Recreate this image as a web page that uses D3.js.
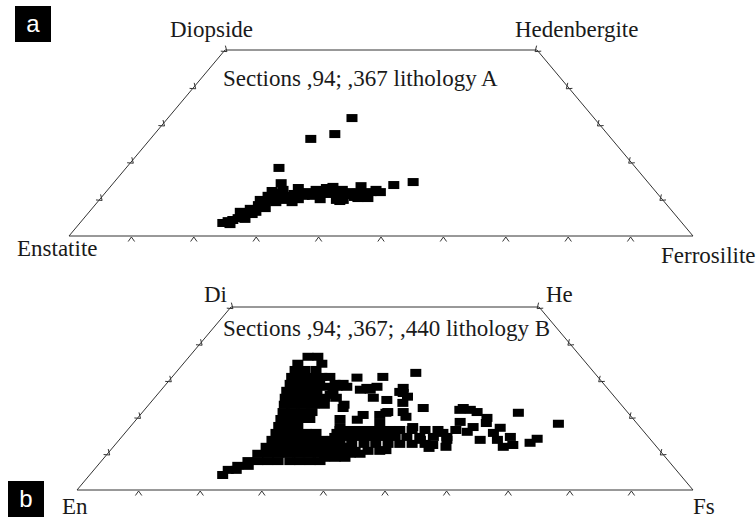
<!DOCTYPE html>
<html>
<head>
<meta charset="utf-8">
<script src="https://cdn.jsdelivr.net/npm/d3@7"></script>
<style>
  body { margin: 0; background: #fff; }
  svg { display: block; }
  .lbl { font-size: 23px; fill: #1a1a1a; }
  .tag { font-family: "Liberation Sans", Arial, sans-serif; font-size: 24px; fill: #fff; }
</style>
</head>
<body>
<svg id="chart" width="756" height="520"></svg>
<script>

// ------------------------------------------------------
// DATA  (each point is [Wo, Fs] in mol %, En = 100 - Wo - Fs)
// ------------------------------------------------------
var cornerNamesA = ["Enstatite", "Diopside", "Hedenbergite", "Ferrosilite"];
var cornerNamesB = ["En", "Di", "He", "Fs"];
var titleA = "Sections ,94; ,367 lithology A";
var titleB = "Sections ,94; ,367; ,440 lithology B";
var baseTicks = [10, 20, 30, 40, 50, 60, 70, 80, 90];   // Fs along the En-Fs join
var sideTicks = [10, 20, 30, 40, 50];                   // Wo along both sides

var pointsA = [
  [3.5,22.9],[4.0,23.5],[4.3,24.1],[4.8,24.7],[5.4,25.2],[6.5,24.2],[6.2,25.6],[7.3,25.4],[7.0,26.3],[8.3,26.2],
  [7.8,27.0],[9.7,25.8],[9.1,26.9],[10.8,26.5],[9.7,27.4],[12.1,26.5],[11.0,27.5],[10.2,28.4],[11.6,28.0],[12.4,28.1],
  [10.8,29.2],[10.2,30.0],[9.1,31.2],[11.3,30.4],[12.9,30.3],[11.6,31.2],[10.8,32.3],[11.8,32.4],[10.8,33.6],[12.4,33.4],
  [11.3,34.3],[11.8,34.7],[12.9,34.8],[11.3,36.2],[13.2,35.7],[9.7,38.0],[11.6,37.3],[12.4,37.6],[11.0,38.9],[11.8,39.2],
  [10.5,40.5],[11.6,40.4],[13.4,40.1],[11.3,41.7],[10.2,42.8],[11.8,42.5],[12.4,43.0],
  [18.3,24.5],[14.2,26.9],[26.1,25.7],[27.4,28.9],[31.7,29.5],[13.7,45.2],[14.5,47.9],
  [3.2,24.2],[4.6,25.9],[5.9,26.4],[6.5,26.7],[7.5,27.7],[9.1,28.6],[9.7,29.3],[9.9,31.8],[9.9,35.3],[9.4,38.7],
  [10.2,41.2],[11.8,44.0],[9.7,39.1]
];

var pointsB = [
  // Ca-rich plume and the low-Ca trend
  [36.4,19.3],[36.4,20.9],[34.5,18.6],[34.5,22.5],[32.8,19.0],[32.8,20.6],[32.8,22.4],
  [30.9,19.4],[30.9,21.1],[30.9,22.7],[30.9,24.3],[30.9,25.6],
  [29.0,20.1],[29.0,21.7],[29.0,23.3],[29.0,24.9],[29.0,27.4],[29.0,28.7],
  [27.1,20.5],[27.1,22.2],[27.1,23.8],[27.1,25.4],[27.1,28.0],
  [25.2,21.2],[25.2,22.8],[25.2,24.4],[25.2,26.0],[25.2,27.7],[25.2,29.5],
  [23.3,22.0],[23.3,23.6],[23.3,25.2],[23.3,26.8],[23.3,28.5],[23.3,31.7],
  [21.3,22.8],[21.3,24.2],[21.3,25.9],[21.3,27.5],
  [19.4,23.4],[19.4,24.9],[19.4,26.5],[19.4,28.1],[19.4,33.0],
  [17.5,24.0],[17.5,25.5],[17.5,27.1],
  [15.6,24.5],[15.6,26.1],[15.6,27.7],[15.6,29.4],[15.6,31.0],[15.6,34.4],
  [13.7,24.8],[13.7,26.4],[13.7,28.1],[13.7,29.7],[13.7,31.3],[13.7,32.9],[13.7,34.6],
  [11.8,24.8],[11.8,26.4],[11.8,28.0],[11.8,29.7],[11.8,31.3],[11.8,32.9],[11.8,34.5],[11.8,36.2],[11.8,37.8],
  [9.9,24.4],[9.9,26.1],[9.9,27.7],[9.9,29.3],[9.9,30.9],[9.9,32.6],[9.9,34.2],[9.9,35.8],[9.9,39.4],[9.9,41.0],
  [7.9,23.8],[7.9,25.4],[7.9,27.0],[7.9,28.7],[7.9,30.6],[7.9,32.2],[7.9,33.9],[7.9,35.5],
  [6.6,22.8],[6.6,24.5],[5.5,21.8],[5.5,23.1],[4.1,21.6],
  // pigeonite / augite band toward Fs
  [16.4,34.5],[16.4,36.1],[16.4,37.7],[16.4,39.4],[16.4,41.0],[16.4,42.6],[16.4,44.2],[16.4,46.2],[16.4,48.3],[16.4,50.4],
  [14.5,34.6],[14.5,36.3],[14.5,37.9],[14.5,39.5],[14.5,41.1],[14.5,42.8],[14.5,44.4],[14.5,46.3],[14.5,48.4],[14.5,50.6],[14.5,52.8],
  [12.6,36.4],[12.6,38.3],[12.6,40.3],[12.6,42.2],[12.6,44.2],[12.6,46.1],[12.6,48.1],[12.6,50.2],
  [10.7,36.0],[10.7,37.6],[10.7,39.8],[10.7,41.9],[10.7,43.8],
  [8.8,35.8],[8.8,37.5],[8.8,39.1],
  [26.5,39.7],[22.4,45.0],[21.9,51.2],[21.9,52.9],[21.3,54.3],[19.7,56.7],[21.1,61.1],[18.1,69.1],[17.0,60.2],[14.5,63.1],
  [14.0,67.7],[12.9,67.1],[13.7,58.6],[15.9,55.4],[13.7,53.2],[12.3,51.6],[13.7,48.9],[18.6,52.9],[17.2,55.7],[13.7,61.4],
  [11.8,63.3],[12.3,64.6],[18.3,57.3],[15.6,59.8],[15.6,51.6],[16.4,53.3],[11.5,51.4],[11.8,54.0],[10.9,44.7],[21.1,39.6],
  [20.0,43.4],[32.0,39.0],[30.9,34.2],[22.4,51.5],
  // scattered subcalcic augites
  [30.7,30.1],[27.9,33.1],[28.2,34.6],[26.8,39.0],[25.5,40.9],[24.6,38.0],[25.2,35.5],[22.4,32.0],[20.5,36.2],[19.2,35.9],
  [20.5,38.9],[21.3,39.8],[21.3,42.3],[18.3,40.0],[17.2,45.9],[17.2,34.1],[28.2,28.1],[28.2,29.7],[28.2,26.5],[26.0,28.1],
  [27.4,32.3],[27.4,33.9],[23.8,41.0],[27.9,39.0]
];

// corners of the quadrilateral as [Wo, Fs]: En, Di, He, Fs
var corners = [[0, 0], [50, 0], [50, 50], [0, 100]];

var serif = "'Liberation Serif', 'DejaVu Serif', 'Times New Roman', Times, serif";
var svg = d3.select("#chart");

// --------------------------------------------------
// one pyroxene quadrilateral
// --------------------------------------------------
function drawPanel(cfg, points, names, title) {
  var g = svg.append("g");

  var x = d3.scaleLinear().domain([0, 100]).range([cfg.left, cfg.right]);
  var y = d3.scaleLinear().domain([0, 50]).range([cfg.base, cfg.top]);
  var px = function(d) { return x(d[1] + d[0] / 2); };
  var py = function(d) { return y(d[0]); };

  g.append("path")
    .attr("d", d3.line().x(px).y(py)(corners) + "Z")
    .attr("fill", "none")
    .attr("stroke", "#333")
    .attr("stroke-width", 1);

  // chevron ticks, apex pointing into the plot
  var cx = d3.mean(corners, px), cy = d3.mean(corners, py);
  function edgeTicks(list, a, b, apexOff, h, w) {
    var ax = px(a), ay = py(a), bx = px(b), by = py(b);
    var len = Math.hypot(bx - ax, by - ay);
    var tx = (bx - ax) / len, ty = (by - ay) / len;
    var nx = -ty, ny = tx;
    if ((cx - ax) * nx + (cy - ay) * ny < 0) { nx = -nx; ny = -ny; }
    list.forEach(function(d) {
      var p = [px(d), py(d)];
      var apx = p[0] + nx * apexOff, apy = p[1] + ny * apexOff;
      var path = d3.path();
      path.moveTo(apx - nx * h + tx * w, apy - ny * h + ty * w);
      path.lineTo(apx, apy);
      path.lineTo(apx - nx * h - tx * w, apy - ny * h - ty * w);
      g.append("path")
        .attr("d", path.toString())
        .attr("fill", "none")
        .attr("stroke", "#333")
        .attr("stroke-width", 1);
    });
  }
  edgeTicks(baseTicks.map(function(f) { return [0, f]; }), corners[0], corners[3], -1, 4.5, 3.2);
  edgeTicks(sideTicks.map(function(w) { return [w, 0]; }), corners[0], corners[1], 2.5, 5, 3.6);
  edgeTicks(sideTicks.map(function(w) { return [w, 100 - w]; }), corners[3], corners[2], 2.5, 5, 3.6);

  // analyses
  g.append("g").selectAll("rect")
    .data(points)
    .enter().append("rect")
    .attr("x", function(d) { return px(d) - 5.5; })
    .attr("y", function(d) { return py(d) - 4; })
    .attr("width", 11)
    .attr("height", 8)
    .attr("fill", "#000");

  // corner names
  names.forEach(function(n, i) {
    g.append("text")
      .attr("class", "lbl")
      .attr("font-family", serif)
      .attr("x", cfg.nameX[i])
      .attr("y", cfg.nameY[i])
      .text(n);
  });

  g.append("text")
    .attr("class", "lbl")
    .attr("font-family", serif)
    .attr("x", cfg.titleX)
    .attr("y", cfg.titleY)
    .text(title);

  // panel letter
  g.append("rect")
    .attr("x", cfg.tag[0]).attr("y", cfg.tag[1])
    .attr("width", 36).attr("height", 36)
    .attr("fill", "#000");
  g.append("text")
    .attr("class", "tag")
    .attr("x", cfg.tag[0] + 18)
    .attr("y", cfg.tag[1] + 26)
    .attr("text-anchor", "middle")
    .text(cfg.letter);
}

drawPanel({
  left: 69, right: 693, base: 236, top: 50,
  nameX: [17, 170, 515, 661], nameY: [256, 37, 37, 263],
  titleX: 223, titleY: 86,
  tag: [15, 6], letter: "a"
}, pointsA, cornerNamesA, titleA);

drawPanel({
  left: 77, right: 693, base: 490, top: 307,
  nameX: [62, 204, 546, 693], nameY: [514, 302, 302, 514],
  titleX: 223, titleY: 336,
  tag: [8, 481], letter: "b"
}, pointsB, cornerNamesB, titleB);

</script>
</body>
</html>
